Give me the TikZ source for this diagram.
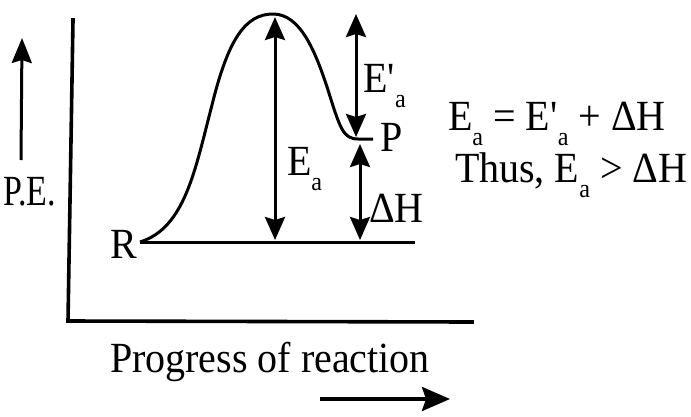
\documentclass[tikz,border=0pt]{standalone}
\usepackage{fontspec}
\setmainfont{Liberation Serif}[FakeStretch=0.93]
\usetikzlibrary{arrows.meta}
\newcommand\subA{\raisebox{-15pt}{\fontsize{26}{26}\selectfont a}}
\newcommand\primeE{E\textquotesingle}
\tikzset{
  lbl/.style={inner sep=0pt, outer sep=0pt, font=\fontsize{43}{43}\selectfont},
  axis/.style={line width=3.6pt, line cap=rect},
  dbl/.style={line width=3pt, {Stealth[length=23pt,width=20pt,inset=3pt]}-{Stealth[length=23pt,width=20pt,inset=3pt]}},
  sgl/.style={line width=3pt, -{Stealth[length=25pt,width=20pt,inset=3pt]}},
}
\begin{document}
\begin{tikzpicture}[x=1pt,y=-1pt]
\useasboundingbox (0,0) rectangle (691,416);
% axes
\coordinate (ytop) at (73,20);
\coordinate (orig) at (68,321);
\coordinate (xend) at (472,322);
\draw[axis] (ytop) -- (orig) -- (xend);
% P.E. arrow
\coordinate (pe0) at (21,160);
\coordinate (pe1) at (22,38);
\draw[sgl] (pe0) -- (pe1);
\node[lbl, anchor=base west] (pe) at (3,205) {\scalebox{0.85}[1]{P.E.}};
% baseline R
\coordinate (r0) at (140,242);
\coordinate (r1) at (415,242);
\draw[line width=3pt] (r0) -- (r1);
\node[lbl, anchor=base] (R) at (124,258) {R};
% energy curve
\coordinate (peak) at (273,14);
\coordinate (p1) at (373,139);
\draw[line width=3pt] (r0) .. controls (185,228) and (195,170) .. (212,105)
  .. controls (228,40) and (245,14) .. (peak)
  .. controls (300,14) and (315,50) .. (328,90)
  .. controls (340,128) and (343,139) .. (358,139) -- (p1);
\node[lbl, anchor=base west] (P) at (380,151) {P};
% Ea arrow
\coordinate (ea0) at (275,17);
\coordinate (ea1) at (275,240);
\draw[dbl] (ea0) -- (ea1);
\node[lbl, anchor=base west] (Ea) at (287,175) {E\subA};
% E'a arrow
\coordinate (eb0) at (356,14);
\coordinate (eb1) at (356,137);
\draw[dbl] (eb0) -- (eb1);
\node[lbl, anchor=base west] (Eb) at (363,92) {\primeE\subA};
% dH arrow
\coordinate (dh0) at (360,144);
\coordinate (dh1) at (360,240);
\draw[dbl] (dh0) -- (dh1);
\node[lbl, anchor=base west] (dH) at (369,222) {ΔH};
% equations
\node[lbl, anchor=base west] (eq1) at (448,130) {E\subA{} = \primeE\subA{} + ΔH};
\node[lbl, anchor=base west] (eq2) at (455,182) {Thus, E\subA{} > ΔH};
% x label
\node[lbl, anchor=base west] (xl) at (110,372) {Progress of reaction};
\coordinate (xa0) at (320,399);
\coordinate (xa1) at (450,399);
\draw[line width=3.6pt, -{Stealth[length=28pt,width=24pt,inset=4pt]}] (xa0) -- (xa1);
\end{tikzpicture}
\end{document}
